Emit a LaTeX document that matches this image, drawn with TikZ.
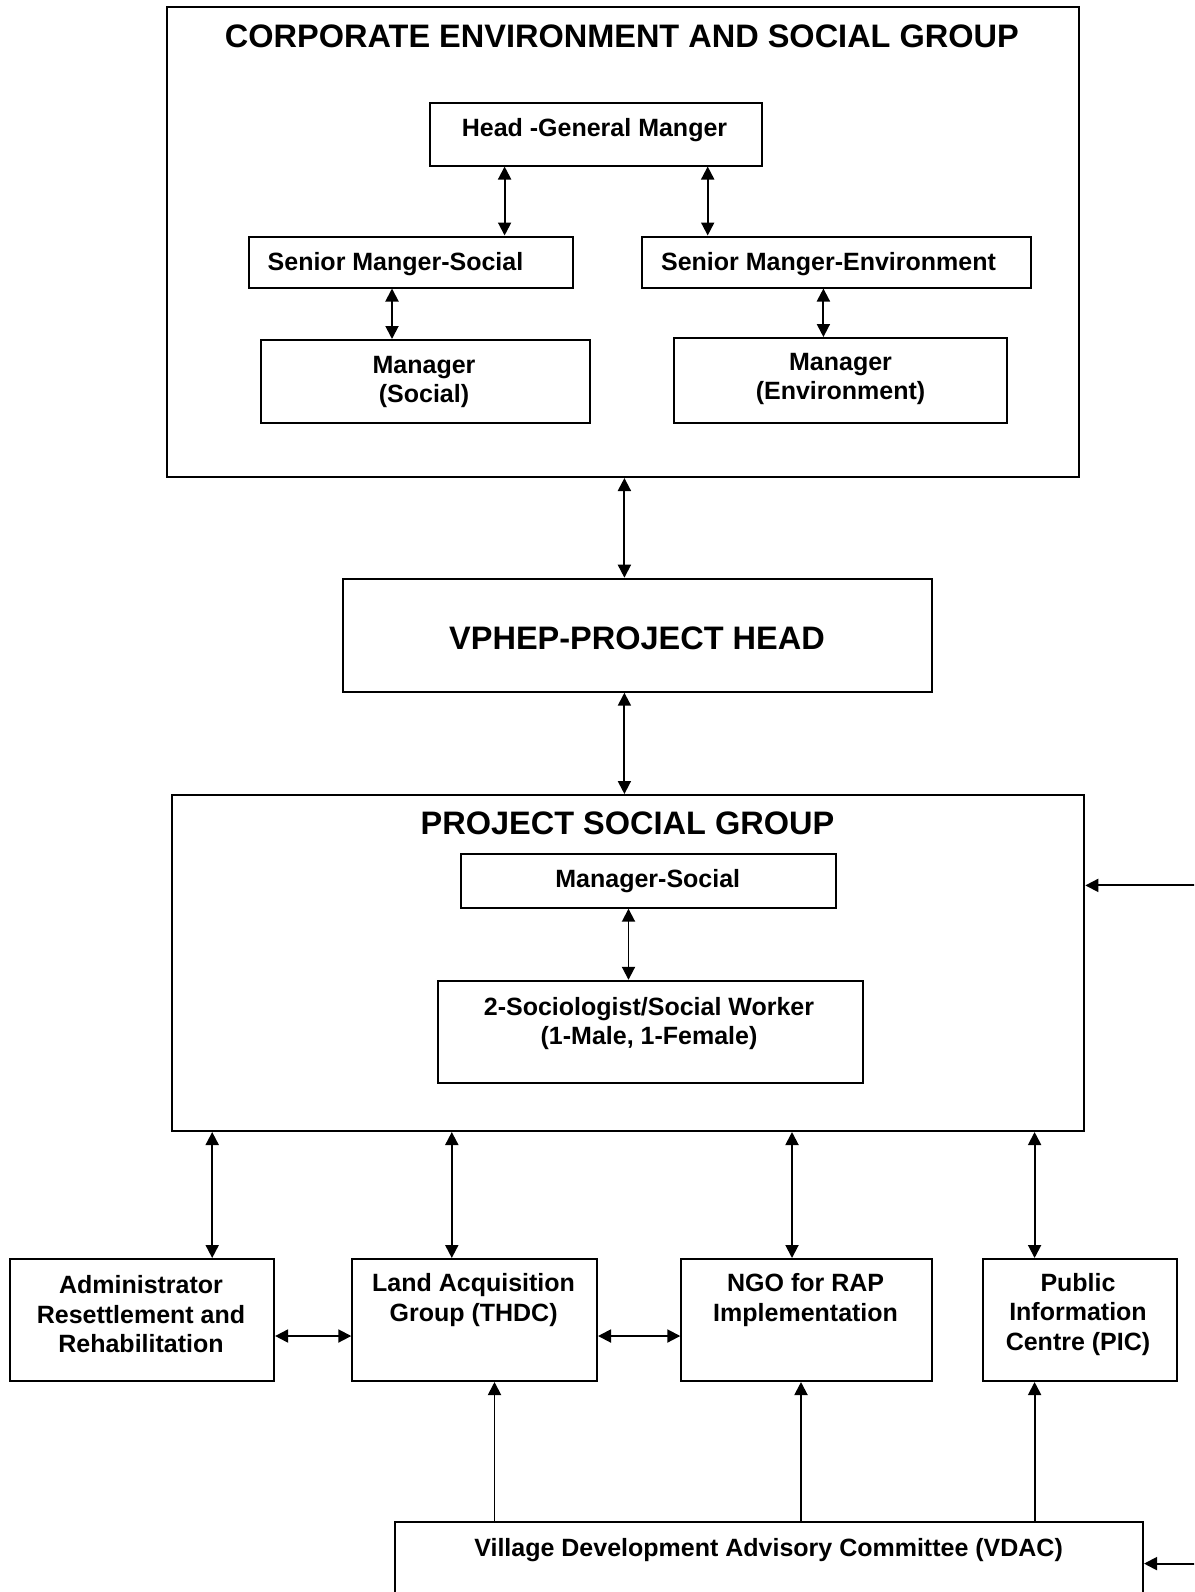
\documentclass[tikz,border=0pt]{standalone}
\usepackage{fontspec}
\setmainfont{Liberation Sans}
\usetikzlibrary{arrows.meta}
\tikzset{
  box/.style={draw, line width=2pt, rectangle, inner sep=0pt, anchor=north west},
  big/.style={font=\fontsize{32.5}{38}\selectfont\bfseries, inner sep=0pt},
  txt/.style={font=\fontsize{25}{29.5}\selectfont\bfseries, align=center, inner sep=0pt, yshift=-2pt},
  dbl/.style={line width=1.9pt, {Triangle[length=13pt,width=13pt]}-{Triangle[length=13pt,width=13pt]}},
  sgl/.style={line width=1.9pt, -{Triangle[length=13pt,width=13pt]}},
}
\begin{document}
\begin{tikzpicture}[x=1pt,y=-1pt]
\useasboundingbox (0,0) rectangle (1194,1592);
\clip (0,0) rectangle (1194,1592);
\fill[white] (0,0) rectangle (1194,1592);
% corporate group
\node[box, minimum width=912.5pt, minimum height=470pt] (corp) at (165.5,6) {};
\node[big] (corpt) at (621.9,36.5) {CORPORATE ENVIRONMENT AND SOCIAL GROUP};
\node[box, minimum width=332pt, minimum height=62pt] (head) at (428.5,102.5) {};
\node[txt] (headt) at (594.5,128) {Head -General Manger};
\node[box, minimum width=324pt, minimum height=51pt] (sms) at (247.7,235.5) {};
\node[txt] (smst) at (395.5,262) {Senior Manger-Social};
\node[box, minimum width=389pt, minimum height=51pt] (sme) at (640.7,235.5) {};
\node[txt] (smet) at (828.5,262) {Senior Manger-Environment};
\node[box, minimum width=329pt, minimum height=83pt] (ms) at (260,339) {};
\node[txt] (mst) at (424,380) {Manager\\(Social)};
\node[box, minimum width=333pt, minimum height=85pt] (me) at (673,337) {};
\node[txt] (met) at (840.5,377) {Manager\\(Environment)};
\draw[dbl] (head.south -| 504.6,0) -- (sms.north -| 504.6,0);
\draw[dbl] (head.south -| 707.7,0) -- (sme.north -| 707.7,0);
\draw[dbl] (sms.south -| 392,0) -- (ms.north -| 392,0);
\draw[dbl] (sme.south -| 823.4,0) -- (me.north -| 823.4,0);
% project head
\node[box, minimum width=589pt, minimum height=113pt] (vp) at (342,577.7) {};
\node[big] (vpt) at (637,638) {VPHEP-PROJECT HEAD};
\draw[dbl] (corp.south -| 624.4,0) -- (vp.north -| 624.4,0);
% project social group
\node[box, minimum width=912.7pt, minimum height=336pt] (psg) at (170.6,794) {};
\node[big] (psgt) at (627.5,823.4) {PROJECT SOCIAL GROUP};
\draw[dbl] (vp.south -| 624.4,0) -- (psg.north -| 624.4,0);
\node[box, minimum width=374.6pt, minimum height=53.7pt] (mgs) at (460,853) {};
\node[txt] (mgst) at (647.8,879) {Manager-Social};
\node[box, minimum width=425.4pt, minimum height=102.5pt] (soc) at (436.6,979.8) {};
\node[txt] (soct) at (649,1021.5) {2-Sociologist/Social Worker\\(1-Male, 1-Female)};
\draw[dbl] (mgs.south -| 628.5,0) -- (soc.north -| 628.5,0);
% bottom boxes
\node[box, minimum width=264pt, minimum height=122pt] (adm) at (9.1,1258) {};
\node[txt] (admt) at (141,1312.5) {Administrator\\Resettlement and\\Rehabilitation};
\node[box, minimum width=244.7pt, minimum height=122pt] (lag) at (351.3,1258) {};
\node[txt] (lagt) at (473.6,1298) {Land Acquisition\\Group (THDC)};
\node[box, minimum width=250.7pt, minimum height=122pt] (ngo) at (680.3,1258) {};
\node[txt] (ngot) at (805.6,1298) {NGO for RAP\\Implementation};
\node[box, minimum width=194pt, minimum height=122pt] (pic) at (981.8,1258) {};
\node[txt] (pict) at (1078,1312.5) {Public\\Information\\Centre (PIC)};
\draw[dbl] (psg.south -| 212.2,0) -- (adm.north -| 212.2,0);
\draw[dbl] (psg.south -| 451.8,0) -- (lag.north -| 451.8,0);
\draw[dbl] (psg.south -| 792,0) -- (ngo.north -| 792,0);
\draw[dbl] (psg.south -| 1034.6,0) -- (pic.north -| 1034.6,0);
\draw[dbl] (adm.east |- 0,1336) -- (lag.west |- 0,1336);
\draw[dbl] (lag.east |- 0,1336) -- (ngo.west |- 0,1336);
% VDAC
\node[box, minimum width=748pt, minimum height=140pt] (vdac) at (394,1521) {};
\node[txt] (vdact) at (768.6,1548.5) {Village Development Advisory Committee (VDAC)};
\draw[sgl] (vdac.north -| 494.5,0) -- (lag.south -| 494.5,0);
\draw[sgl] (vdac.north -| 801,0) -- (ngo.south -| 801,0);
\draw[sgl] (vdac.north -| 1034.6,0) -- (pic.south -| 1034.6,0);
% incoming from right edge
\coordinate (r1) at (1196,885.4);
\coordinate (r2) at (1196,1563.6);
\draw[sgl] (r1) -- (psg.east |- r1);
\draw[sgl] (r2) -- (vdac.east |- r2);
\end{tikzpicture}
\end{document}
